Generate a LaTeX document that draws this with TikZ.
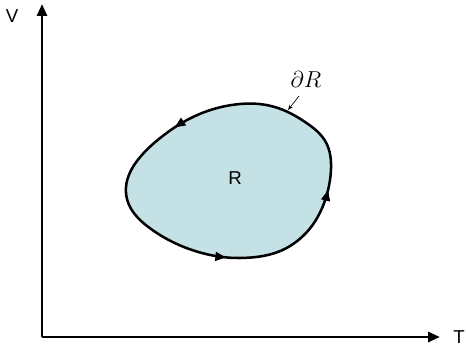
\documentclass[tikz,border=0pt]{standalone}
\usepackage{fontspec}
\setmainfont{Liberation Sans}
\usepackage{tikz}
\usetikzlibrary{arrows.meta,decorations.markings}
\definecolor{regionfill}{RGB}{196,225,229}

\begin{document}
\begin{tikzpicture}[
    x=0.75pt, y=0.75pt,
    every node/.style={font=\fontsize{14}{16}\selectfont},
    axis/.style={-{Triangle[length=9pt,width=7.5pt]}, line width=2.2pt},
    boundary/.style={line width=1.9pt, fill=regionfill,
                     postaction={decorate}},
    pointer/.style={-{Stealth[length=4pt,width=3pt]}, line width=0.5pt},
    flow/.style={decoration={markings,
                 mark=at position #1 with {\arrow{Triangle[length=8pt,width=6.5pt]}}}},
]
  \useasboundingbox (0,0) rectangle (466,349);
  % Axes
  \coordinate (O)    at (42,12);
  \coordinate (vtop) at (42,345);
  \coordinate (tend) at (440,12);
  \draw[axis] (O) -- (vtop);
  \draw[axis] (O) -- (tend);
  \node (vlab) at (12,333) {V};
  \node (tlab) at (459,12) {T};
  % Region and its boundary (counterclockwise)
  \draw[boundary, flow=0.24, flow=0.615, flow=0.855]
    plot[smooth cycle, tension=0.7] coordinates {
      (331,186) (302,229) (240,245) (168,217)
      (126,162) (160,114) (240,91) (306,116)};
  % Labels
  \node (R) at (235,171) {R};
  \node[font=\fontsize{19}{21}\selectfont] (dR) at (306,269) {$\partial R$};
  \coordinate (dRfoot) at (299,253);
  \coordinate (dRtip)  at (288,239);
  \draw[pointer] (dRfoot) -- (dRtip);
\end{tikzpicture}
\end{document}
